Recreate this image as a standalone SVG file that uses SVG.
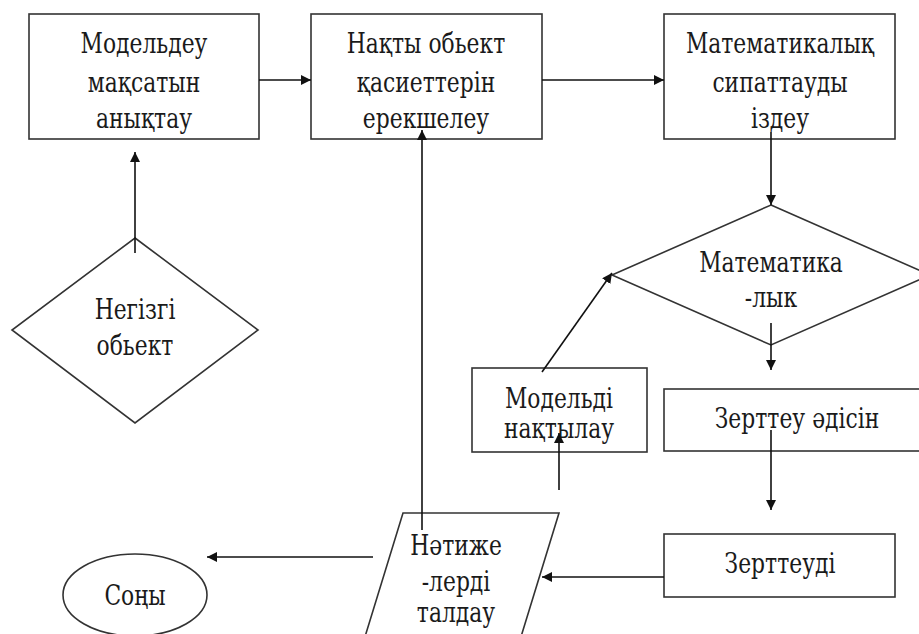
<svg xmlns="http://www.w3.org/2000/svg" width="919" height="634" viewBox="0 0 919 634">
<style>
.shape{fill:#fff;stroke:#333;stroke-width:1.6}
.c{fill:none;stroke:#111;stroke-width:1.6}
</style>
<defs>
<marker id="ah" viewBox="0 0 10 10" refX="10" refY="5" markerWidth="10" markerHeight="10" markerUnits="userSpaceOnUse" orient="auto">
<path d="M0,0 L10,5 L0,10 Z" fill="#111"/>
</marker>
</defs>
<rect width="919" height="634" fill="#fff"/>
<g font-family="DejaVu Serif, Liberation Serif, serif" font-size="23" text-anchor="middle" fill="#1a1a1a">
<g id="n1">
<rect class="shape" x="29" y="14" width="230" height="125"/>
<text transform="translate(144,53) scale(0.95,1.19)">Модельдеу</text>
<text transform="translate(144,92) scale(0.95,1.19)">мақсатын</text>
<text transform="translate(144,128) scale(0.95,1.19)">анықтау</text>
</g>
<g id="n2">
<rect class="shape" x="311" y="14" width="231" height="125"/>
<text transform="translate(426,53) scale(0.95,1.19)">Нақты обьект</text>
<text transform="translate(426,92) scale(0.95,1.19)">қасиеттерін</text>
<text transform="translate(426,128) scale(0.95,1.19)">ерекшелеу</text>
</g>
<g id="n3">
<rect class="shape" x="664" y="14" width="231" height="125"/>
<text transform="translate(780,53) scale(0.95,1.19)">Математикалық</text>
<text transform="translate(780,92) scale(0.95,1.19)">сипаттауды</text>
<text transform="translate(780,128) scale(0.95,1.19)">іздеу</text>
</g>
<g id="n4">
<polygon class="shape" points="135,238 258,330 135,423 12,330"/>
<text transform="translate(135,319) scale(0.95,1.19)">Негізгі</text>
<text transform="translate(135,355) scale(0.95,1.19)">обьект</text>
</g>
<g id="n5">
<polygon class="shape" points="771,205 930,275 771,345 612,275"/>
<text transform="translate(771,272) scale(0.95,1.19)">Математика</text>
<text transform="translate(771,307) scale(0.95,1.19)">-лык</text>
</g>
<g id="n6">
<rect class="shape" x="472" y="368" width="175" height="84"/>
<text transform="translate(559,408) scale(0.95,1.19)">Модельді</text>
<text transform="translate(559,438) scale(0.95,1.19)">нақтылау</text>
</g>
<g id="n7">
<rect class="shape" x="664" y="389" width="266" height="62"/>
<text transform="translate(797,428) scale(0.95,1.19)">Зерттеу әдісін</text>
</g>
<g id="n8">
<rect class="shape" x="664" y="534" width="231" height="63"/>
<text transform="translate(780,573) scale(0.95,1.19)">Зерттеуді</text>
</g>
<g id="n9">
<polygon class="shape" points="403,513 559,513 520,640 364,640"/>
<text transform="translate(456,555) scale(0.95,1.19)">Нәтиже</text>
<text transform="translate(456,591) scale(0.95,1.19)">-лерді</text>
<text transform="translate(456,622) scale(0.95,1.19)">талдау</text>
</g>
<g id="n10">
<ellipse class="shape" cx="135" cy="595" rx="72" ry="41"/>
<text transform="translate(135,605) scale(0.95,1.19)">Соңы</text>
</g>
</g>
<g id="connectors">
<line class="c" x1="259" y1="80" x2="311" y2="80" marker-end="url(#ah)"/>
<line class="c" x1="542" y1="80" x2="664" y2="80" marker-end="url(#ah)"/>
<line class="c" x1="771" y1="132" x2="771" y2="205" marker-end="url(#ah)"/>
<line class="c" x1="135" y1="253" x2="135" y2="152" marker-end="url(#ah)"/>
<line class="c" x1="771" y1="323" x2="771" y2="370" marker-end="url(#ah)"/>
<line class="c" x1="542" y1="372" x2="612" y2="273" marker-end="url(#ah)"/>
<line class="c" x1="559" y1="490" x2="559" y2="433" marker-end="url(#ah)"/>
<line class="c" x1="771" y1="430" x2="771" y2="510" marker-end="url(#ah)"/>
<line class="c" x1="664" y1="577" x2="542" y2="577" marker-end="url(#ah)"/>
<line class="c" x1="373" y1="557" x2="207" y2="557" marker-end="url(#ah)"/>
<line class="c" x1="422" y1="530" x2="422" y2="130" stroke="#555" stroke-width="2" marker-end="url(#ah)"/>
</g>
</svg>
